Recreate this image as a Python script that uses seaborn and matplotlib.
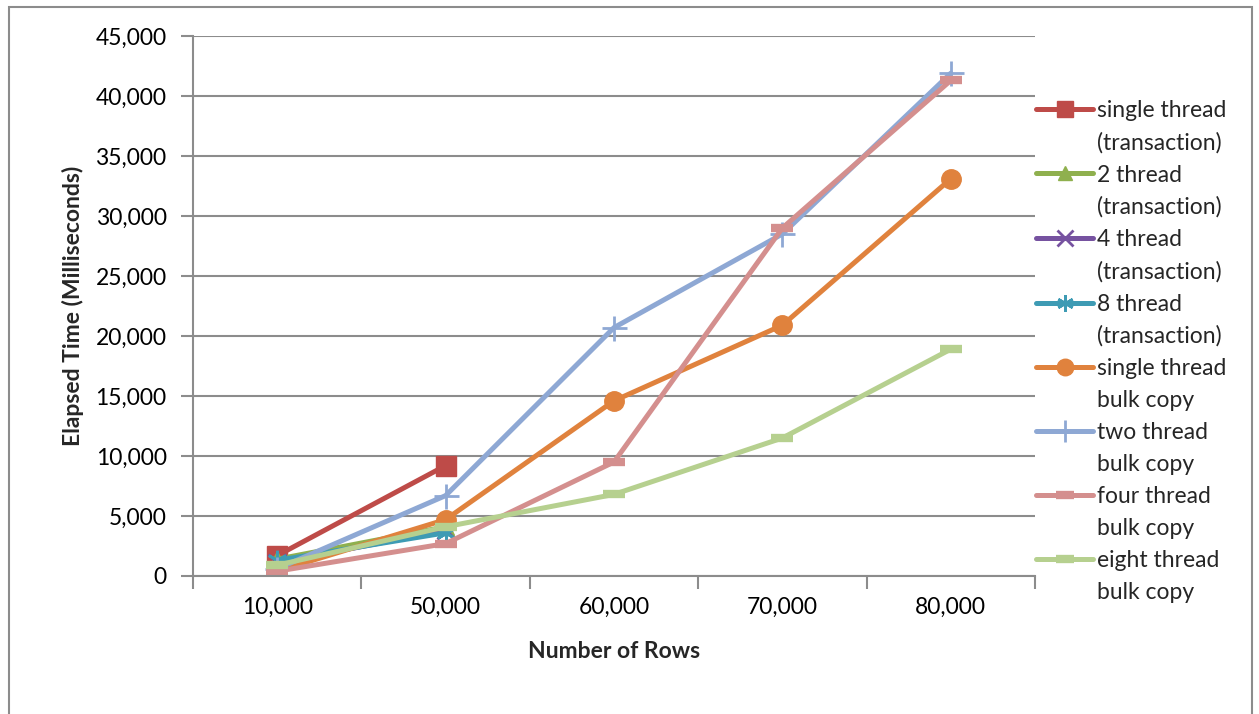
import matplotlib
matplotlib.use("Agg")
import matplotlib.pyplot as plt
from matplotlib.lines import Line2D
from matplotlib.patches import Rectangle
from matplotlib.ticker import FuncFormatter, FixedLocator
import seaborn as sns
import pandas as pd

# Row counts along the category axis
rows = ["10,000", "50,000", "60,000", "70,000", "80,000"]

# Elapsed time in milliseconds per loading strategy
single_tx = [1700, 9200]
two_tx = [1400, 4100]
four_tx = [1100, 3800]
eight_tx = [1300, 3600]
single_bulk = [400, 4700, 14600, 20900, 33100]
two_bulk = [600, 6700, 20700, 28500, 41900]
four_bulk = [400, 2700, 9500, 29000, 41300]
eight_bulk = [900, 4100, 6800, 11500, 18900]

series_names = [
    "single thread\n(transaction)",
    "2 thread\n(transaction)",
    "4 thread\n(transaction)",
    "8 thread\n(transaction)",
    "single thread\nbulk copy",
    "two thread\nbulk copy",
    "four thread\nbulk copy",
    "eight thread\nbulk copy",
]
series_values = [single_tx, two_tx, four_tx, eight_tx,
                 single_bulk, two_bulk, four_bulk, eight_bulk]

colors = ["#BE4B48", "#8FB04E", "#7652A0", "#3E9BB4",
          "#E0823D", "#8EA8D4", "#D48F8E", "#B6D08F"]
styles = [
    dict(marker="s", markersize=14, mew=1),
    dict(marker="^", markersize=12, mew=1),
    dict(marker="x", markersize=13, mew=2),
    dict(marker=(6, 2, 0), markersize=14, mew=2),
    dict(marker="o", markersize=14, mew=1),
    dict(marker="+", markersize=18, mew=2),
    dict(marker="_", markersize=16, mew=6),
    dict(marker="_", markersize=16, mew=6),
]

records = []
for name, vals in zip(series_names, series_values):
    for r, v in zip(rows, vals):
        records.append({"series": name, "rows": r, "ms": v})
df = pd.DataFrame(records)

sns.set_theme(style="white")
plt.rcParams["font.family"] = ["Lato", "DejaVu Sans"]

fig = plt.figure(figsize=(12.59, 7.14), dpi=100)
ax = fig.add_axes([193 / 1259, 1 - 576 / 714, (1035 - 193) / 1259, (576 - 36) / 714])

grid_c = "#8C8C8C"
leg_handles, leg_labels = [], []
for name, color, st in zip(series_names, colors, styles):
    sub = df[df["series"] == name]
    sns.lineplot(data=sub, x="rows", y="ms", ax=ax, color=color, linewidth=3.6,
                 marker=st["marker"], markersize=st["markersize"],
                 markeredgewidth=st["mew"], markeredgecolor=color,
                 markerfacecolor=color, sort=False, legend=False)
    # the key sits beside the first line of each two-line label
    first, second = name.split("\n")
    leg_handles.append(Line2D([0], [0], color=color, linewidth=3.6,
                              marker=st["marker"], markersize=st["markersize"] * 0.85,
                              markeredgewidth=st["mew"], markeredgecolor=color,
                              markerfacecolor=color))
    leg_labels.append(first)
    leg_handles.append(Line2D([0], [0], color="none"))
    leg_labels.append(second)

ax.set_xlim(-0.5, len(rows) - 0.5)
ax.set_ylim(0, 45000)
ax.yaxis.set_major_locator(FixedLocator(range(0, 45001, 5000)))
ax.yaxis.set_major_formatter(FuncFormatter(lambda v, p: f"{int(v):,}"))
ax.grid(axis="y", color=grid_c, linewidth=1.5)
ax.set_axisbelow(True)

# category boundaries carry the x tick marks; labels sit at the centres
ax.set_xticks([i - 0.5 for i in range(len(rows) + 1)], minor=False)
ax.set_xticklabels([])
ax.set_xticks(range(len(rows)), minor=True)
ax.set_xticklabels(rows, minor=True)
ax.tick_params(axis="x", which="major", direction="out", length=9, width=1.5,
               color=grid_c, bottom=True)
ax.tick_params(axis="x", which="minor", length=0, pad=15, labelsize=16.5,
               labelcolor="black")
ax.tick_params(axis="y", direction="out", length=9, width=1.5, color=grid_c,
               left=True, pad=10, labelsize=16.5, labelcolor="black")

for side in ["top", "right"]:
    ax.spines[side].set_visible(False)
for side in ["left", "bottom"]:
    ax.spines[side].set_color(grid_c)
    ax.spines[side].set_linewidth(1.5)

ax.set_xlabel("Number of Rows", fontsize=16.5, fontweight="bold", labelpad=17)
ax.set_ylabel("Elapsed Time (Milliseconds)", fontsize=16.5, fontweight="bold",
              labelpad=8)

leg = fig.legend(leg_handles, leg_labels, loc="upper left",
                 bbox_to_anchor=(1036 / 1259, 1 - 100 / 714), frameon=False,
                 fontsize=16.5, handlelength=2.5, handletextpad=0.15,
                 labelspacing=0.48, borderaxespad=0, borderpad=0)

fig.patches.append(Rectangle((9 / 1259, -0.02), (1252 - 9) / 1259, 1.02 - 7 / 714,
                             transform=fig.transFigure, fill=False,
                             edgecolor="#8C8C8C", linewidth=1.5))

fig.savefig("out.png", dpi=100, facecolor="white")
